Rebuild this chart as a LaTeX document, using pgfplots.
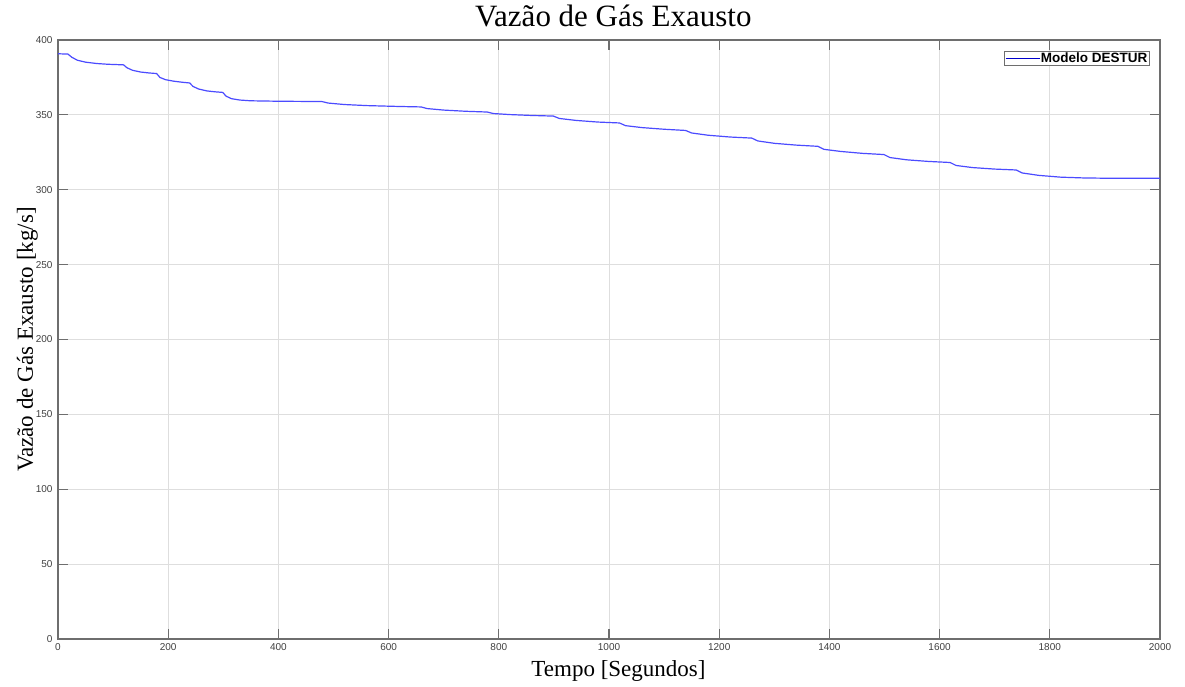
\documentclass[border=0pt]{standalone}
\usepackage{fontspec}
\setmainfont{Liberation Serif}
\newfontfamily\ticksans{Liberation Sans}
\usepackage{pgfplots}
\pgfplotsset{compat=1.18}
\definecolor{curveblue}{RGB}{75,75,255}
\definecolor{axgray}{RGB}{110,110,110}
\definecolor{gridgray}{RGB}{222,222,222}
\begin{document}
\begin{tikzpicture}
\begin{axis}[
  scale only axis,
  width=1102pt, height=599pt,
  at={(0pt,0pt)}, anchor=south west,
  xmin=0, xmax=2000, ymin=0, ymax=400,
  xtick={0,200,...,2000}, ytick={0,50,...,400},
  grid=major,
  major grid style={draw=gridgray, line width=0.8pt},
  axis line style={draw=axgray, line width=1.4pt},
  major tick length=10pt,
  tick style={draw=axgray, line width=1.2pt},
  tick align=inside,
  xtick pos=both, ytick pos=both,
  /pgf/number format/assume math mode=true,
  /pgf/number format/1000 sep={},
  ticklabel style={font=\fontsize{10}{12}\selectfont\ticksans, text=black!75},
  xticklabel style={yshift=-1pt},
  yticklabel style={xshift=-2pt},
  title={Vazão de Gás Exausto},
  title style={at={(axis description cs:0.504,1.0117)}, anchor=base, font=\fontsize{31}{36}\selectfont},
  xlabel={Tempo [Segundos]},
  xlabel style={at={(axis description cs:0.5086,-0.0618)}, anchor=base, font=\fontsize{23}{27}\selectfont},
  ylabel={Vazão de Gás Exausto [kg/s]},
  ylabel style={at={(axis description cs:-0.0227,0.5)}, anchor=base, font=\fontsize{23}{27}\selectfont},
  legend style={at={(axis description cs:0.99,0.9816)}, anchor=north east,
    draw=axgray, line width=0.8pt, inner sep=0.5pt, outer sep=0pt,
    font=\fontsize{13.5}{14}\selectfont\ticksans\bfseries,
    nodes={inner sep=1pt}},
  legend image code/.code={\draw[line width=0.9pt, color=blue!80!black] (0pt,0pt) -- (34pt,0pt);},
]
\addplot[curveblue, line width=1.2pt] coordinates {
(0,390.8) (18,390.6) (25,388.5) (35,386.5) (50,385.2) (70,384.3) (90,383.8) (119,383.4)
(125,381.5) (135,379.8) (150,378.6) (165,378.0) (179,377.6)
(185,375.0) (195,373.5) (210,372.5) (225,371.8) (239,371.3)
(245,369.0) (255,367.3) (270,366.0) (285,365.4) (299,365.0)
(305,362.5) (315,360.8) (330,359.9) (350,359.4) (400,359.1) (479,358.9)
(490,357.9) (520,356.9) (560,356.2) (620,355.6) (659,355.3)
(670,354.2) (700,353.2) (740,352.4) (779,351.9)
(790,350.9) (820,350.2) (860,349.6) (899,349.2)
(910,347.6) (940,346.3) (980,345.2) (1019,344.6)
(1030,342.8) (1060,341.5) (1100,340.4) (1139,339.6)
(1150,337.9) (1180,336.4) (1220,335.2) (1259,334.5)
(1270,332.6) (1300,331.0) (1340,329.8) (1379,329.0)
(1390,327.0) (1420,325.6) (1460,324.3) (1499,323.5)
(1510,321.5) (1540,320.0) (1580,318.9) (1619,318.2)
(1630,316.2) (1660,314.8) (1700,313.8) (1739,313.2)
(1750,311.2) (1780,309.6) (1820,308.4) (1860,307.9) (1900,307.7) (2000,307.7)
};
\addlegendentry{Modelo DESTUR}
\end{axis}
\pgfresetboundingbox
\useasboundingbox (-58pt,-47pt) rectangle (1127pt,639pt);
\end{tikzpicture}
\end{document}
